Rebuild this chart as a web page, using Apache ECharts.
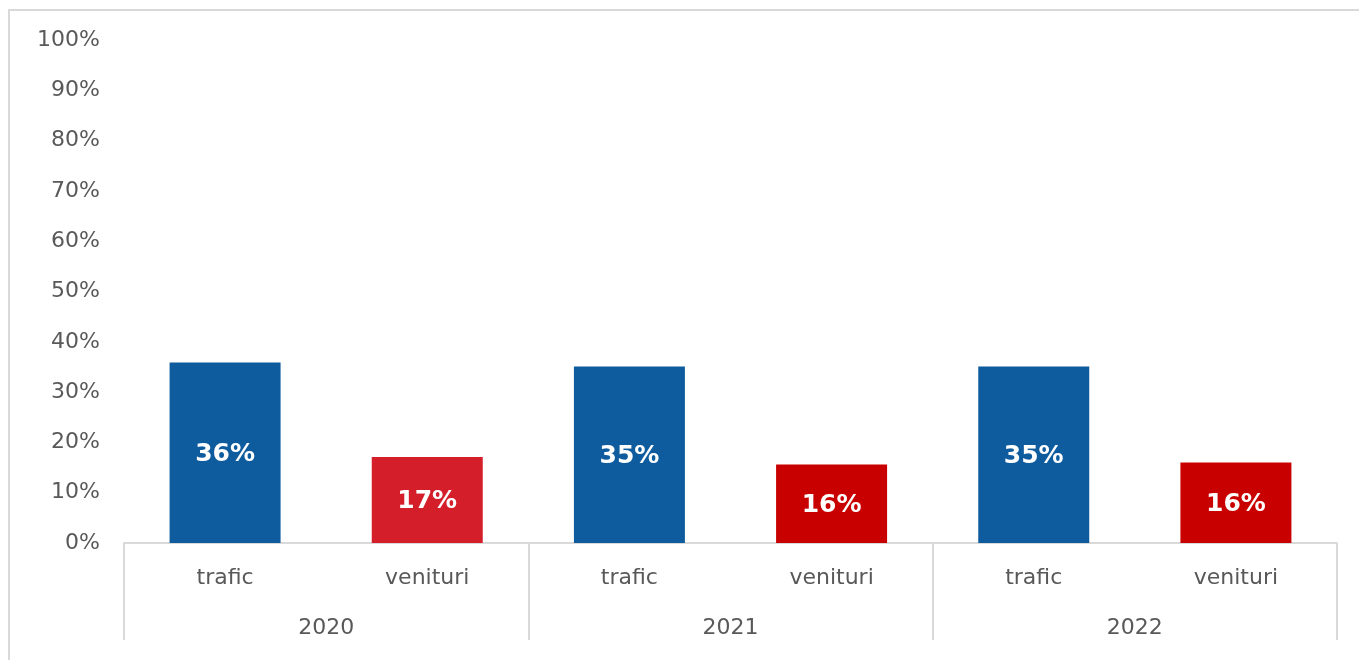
<!DOCTYPE html>
<html>
<head>
<meta charset="utf-8">
<script src="https://cdn.jsdelivr.net/npm/echarts@6/dist/echarts.min.js"></script>
<style>
    html, body { margin: 0; padding: 0; background: #fff; }
    #chart { width: 1359px; height: 660px; }
</style>
</head>
<body>
<div id="chart"></div>
<script>
// data (percent)
var years = ['2020', '2021', '2022']
var kinds = ['trafic', 'venituri']
var trafic = [35.9, 35.1, 35.1]
var venituri = [17.1, 15.6, 16.0]
var yTicks = [0, 10, 20, 30, 40, 50, 60, 70, 80, 90, 100]

var kindColors = {
    trafic: ['#0E5C9E', '#0E5C9E', '#0E5C9E'],
    venituri: ['#D41E2A', '#C80000', '#C80000']
}

var textColor = '#595959'
var lineColor = '#D9D9D9'
var font = 'DejaVu Sans'

// flatten year x kind into the lower level categories
var categories = []
var barData = []
years.forEach(function (y, i) {
    kinds.forEach(function (k) {
        categories.push(k)
        var v = k === 'trafic' ? trafic[i] : venituri[i]
        barData.push({
            value: v,
            itemStyle: { color: kindColors[k][i] }
        })
    })
})

var chart = echarts.init(document.getElementById('chart'))
var option = {
    animation: false,
    graphic: [
        {
            // outer frame (top and left edges visible)
            type: 'polyline',
            shape: { points: [[9, 660], [9, 10], [1359, 10]] },
            style: { stroke: lineColor, lineWidth: 2, fill: null },
            silent: true
        }
    ],
    grid: {
        left: 124,
        right: 22,
        top: 40,
        bottom: 117
    },
    xAxis: [
        {
            type: 'category',
            data: categories,
            position: 'bottom',
            axisLine: { show: true, lineStyle: { color: lineColor, width: 2 } },
            axisTick: { show: false },
            axisLabel: {
                interval: 0,
                color: textColor,
                fontFamily: font,
                fontSize: 22,
                margin: 24
            }
        },
        {
            type: 'category',
            data: years,
            position: 'bottom',
            offset: 0,
            axisLine: { show: false },
            axisTick: {
                show: true,
                interval: 0,
                length: 97,
                lineStyle: { color: lineColor, width: 2 }
            },
            axisLabel: {
                interval: 0,
                color: textColor,
                fontFamily: font,
                fontSize: 22,
                margin: 74
            }
        }
    ],
    yAxis: {
        type: 'value',
        min: yTicks[0],
        max: yTicks[yTicks.length - 1],
        interval: 10,
        axisLine: { show: false },
        axisTick: { show: false },
        splitLine: { show: false },
        axisLabel: {
            color: textColor,
            fontFamily: font,
            fontSize: 22,
            margin: 24,
            formatter: '{value}%'
        }
    },
    series: [
        {
            type: 'bar',
            xAxisIndex: 0,
            data: barData,
            barWidth: 111,
            label: {
                show: true,
                position: 'inside',
                offset: [0, 2],
                color: '#fff',
                fontFamily: font,
                fontWeight: 'bold',
                fontSize: 25,
                formatter: function (p) {
                    return Math.round(p.value) + '%'
                }
            }
        }
    ]
}
chart.setOption(option)
</script>
</body>
</html>
